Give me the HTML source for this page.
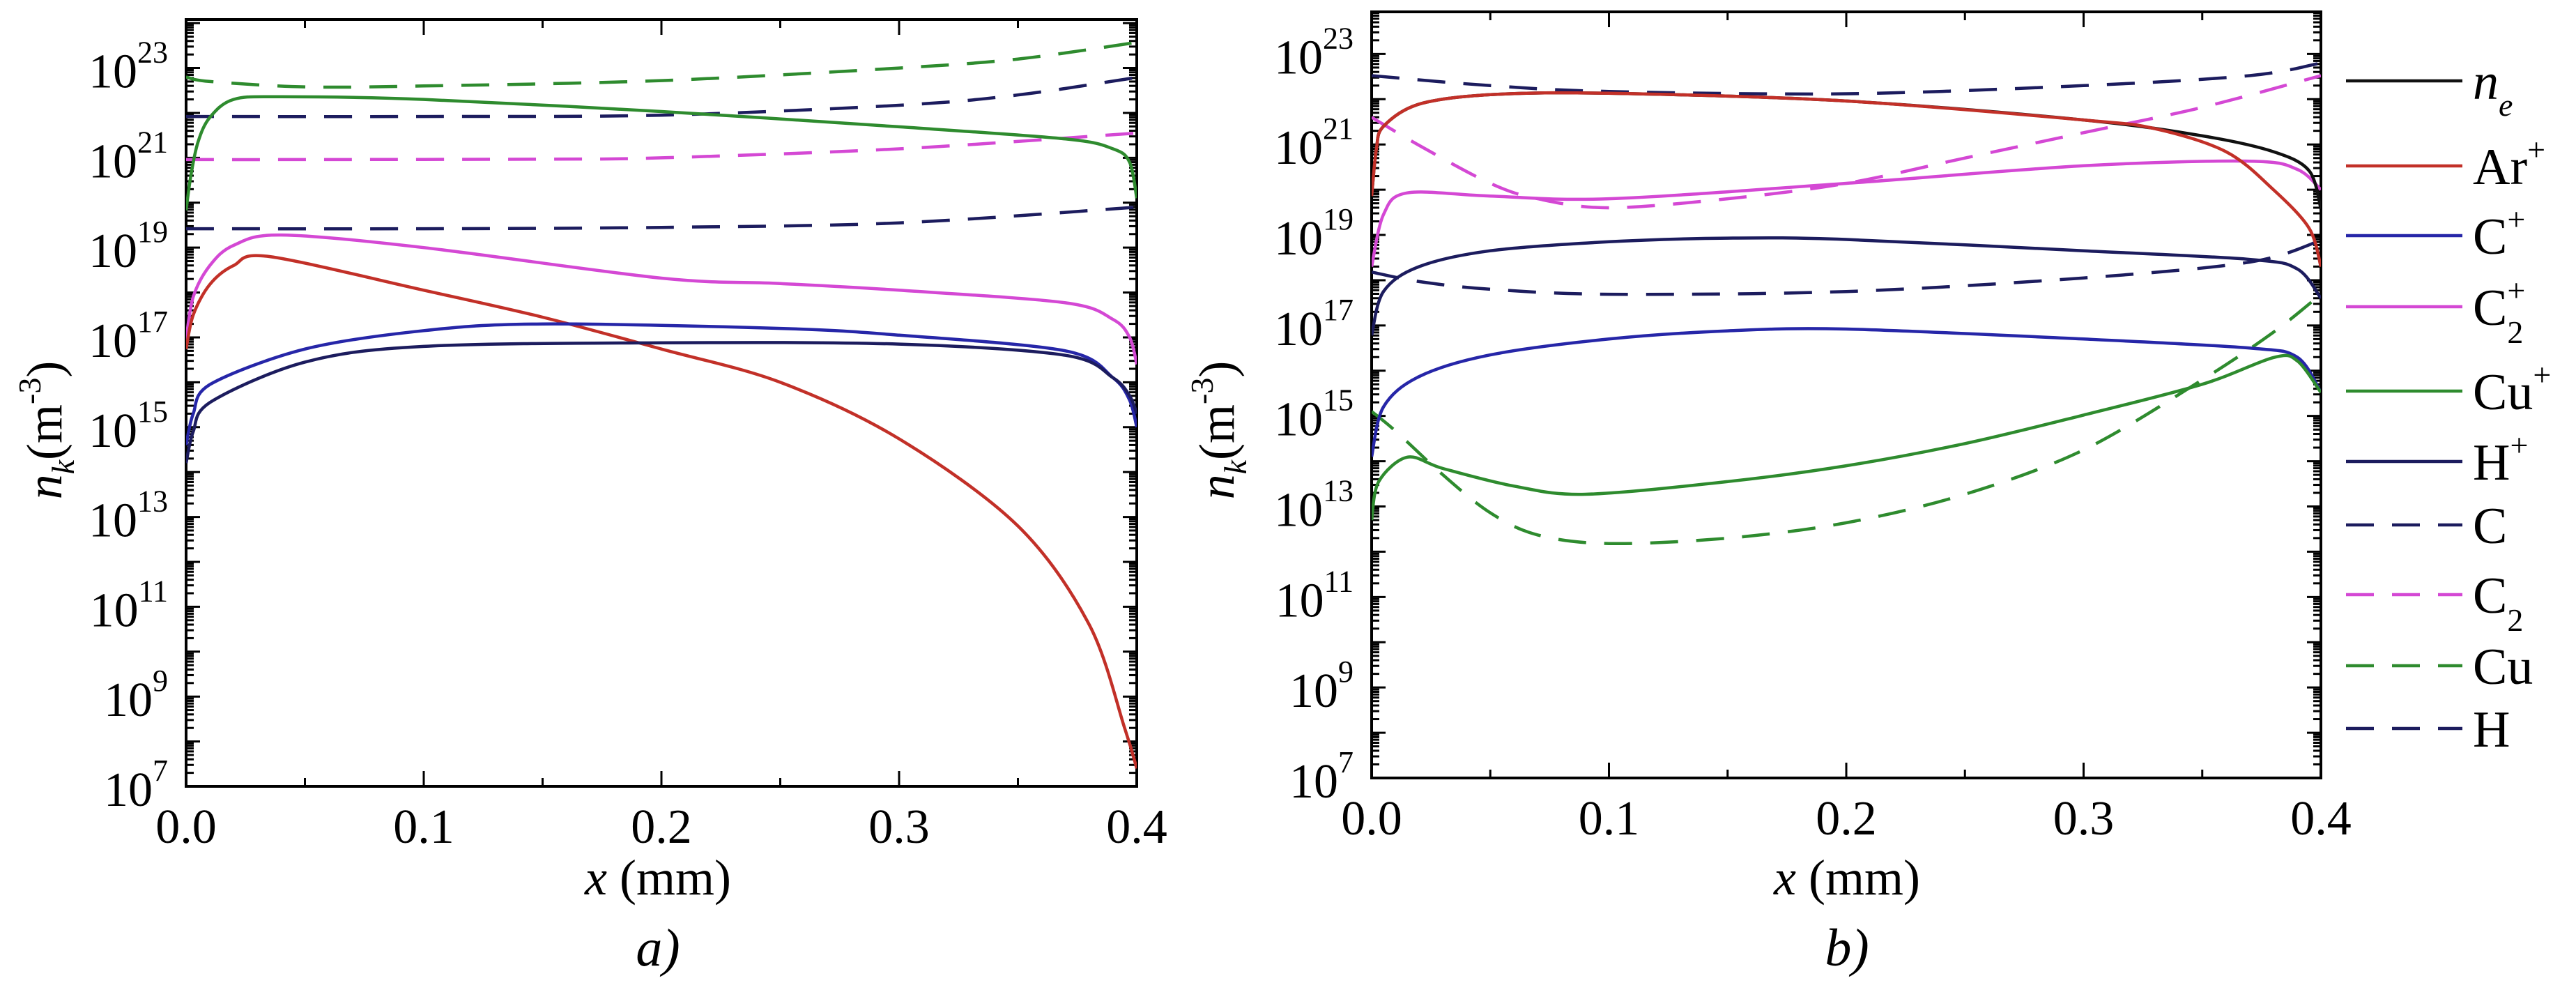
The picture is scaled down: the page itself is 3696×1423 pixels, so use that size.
<!DOCTYPE html>
<html><head><meta charset="utf-8">
<style>
html,body{margin:0;padding:0;background:#fff;}
svg{display:block;}
text{font-family:"Liberation Serif",serif;fill:#000;}
</style></head>
<body>
<svg id="fig" width="3696" height="1423" viewBox="0 0 3696 1423" xmlns="http://www.w3.org/2000/svg"></svg>
<script>
// ---------- data (log10 of density, x in mm) ----------
const xTicks = [0.0, 0.1, 0.2, 0.3, 0.4];
const yTickExps = [7, 9, 11, 13, 15, 17, 19, 21, 23];

// Panel a
const aCuDashX = [0, 0.01, 0.05, 0.1, 0.2, 0.3, 0.35, 0.4];
const aCuDashY = [22.8, 22.7, 22.58, 22.6, 22.72, 23.0, 23.2, 23.57];
const aHDashX = [0, 0.1, 0.2, 0.3, 0.35, 0.4];
const aHDashY = [21.92, 21.92, 21.95, 22.17, 22.4, 22.79];
const aCuIonX = [0, 0.002, 0.005, 0.01, 0.02, 0.04, 0.1, 0.2, 0.3, 0.37, 0.39, 0.397, 0.4];
const aCuIonY = [19.83, 20.6, 21.35, 21.9, 22.3, 22.36, 22.3, 22.03, 21.69, 21.42, 21.2, 20.9, 20.1];
const aC2DashX = [0, 0.05, 0.15, 0.2, 0.3, 0.4];
const aC2DashY = [20.96, 20.96, 20.97, 21.0, 21.2, 21.55];
const aCDashX = [0, 0.1, 0.2, 0.3, 0.4];
const aCDashY = [19.42, 19.42, 19.45, 19.55, 19.9];
const aC2IonX = [0, 0.003, 0.01, 0.02, 0.04, 0.1, 0.2, 0.25, 0.3, 0.37, 0.39, 0.397, 0.4];
const aC2IonY = [16.95, 17.9, 18.6, 19.05, 19.28, 19.0, 18.32, 18.2, 18.05, 17.77, 17.4, 17.0, 16.4];
const aArIonX = [0, 0.003, 0.01, 0.02, 0.035, 0.1, 0.15, 0.2, 0.25, 0.3, 0.35, 0.38, 0.395, 0.4];
const aArIonY = [16.74, 17.5, 18.18, 18.6, 18.8, 18.05, 17.45, 16.74, 16.0, 14.74, 12.8, 10.6, 8.28, 7.4];
const aCIonX = [0, 0.003, 0.01, 0.05, 0.1, 0.15, 0.25, 0.3, 0.37, 0.39, 0.397, 0.4];
const aCIonY = [14.6, 15.3, 15.95, 16.74, 17.15, 17.3, 17.2, 17.05, 16.7, 16.1, 15.6, 15.0];
const aHIonX = [0, 0.003, 0.01, 0.05, 0.1, 0.2, 0.3, 0.37, 0.39, 0.397, 0.4];
const aHIonY = [14.2, 14.9, 15.55, 16.45, 16.8, 16.88, 16.85, 16.6, 16.1, 15.7, 15.3];

// Panel b
const bHDashX = [0, 0.05, 0.1, 0.2, 0.3, 0.37, 0.4];
const bHDashY = [22.52, 22.3, 22.17, 22.12, 22.3, 22.52, 22.8];
const bNeX = [0, 0.002, 0.005, 0.02, 0.05, 0.1, 0.2, 0.3, 0.35, 0.38, 0.395, 0.4];
const bNeY = [19.86, 20.9, 21.4, 21.89, 22.1, 22.13, 21.96, 21.54, 21.19, 20.84, 20.42, 19.58];
const bArX = [0, 0.002, 0.005, 0.02, 0.05, 0.1, 0.2, 0.3, 0.33, 0.36, 0.38, 0.395, 0.4];
const bArY = [19.86, 20.9, 21.4, 21.89, 22.1, 22.13, 21.96, 21.54, 21.35, 20.84, 20.0, 19.15, 18.3];
const bC2DashX = [0, 0.02, 0.05, 0.07, 0.1, 0.15, 0.2, 0.25, 0.3, 0.35, 0.4];
const bC2DashY = [21.6, 20.98, 20.14, 19.8, 19.6, 19.8, 20.14, 20.7, 21.26, 21.82, 22.52];
const bC2IonX = [0, 0.005, 0.015, 0.05, 0.1, 0.2, 0.3, 0.37, 0.39, 0.4];
const bC2IonY = [18.3, 19.45, 19.93, 19.86, 19.8, 20.14, 20.53, 20.63, 20.45, 20.0];
const bHIonX = [0, 0.005, 0.02, 0.05, 0.1, 0.15, 0.2, 0.3, 0.37, 0.39, 0.4];
const bHIonY = [16.78, 17.75, 18.3, 18.65, 18.85, 18.93, 18.9, 18.65, 18.46, 18.25, 17.6];
const bCDashX = [0, 0.02, 0.05, 0.1, 0.2, 0.3, 0.37, 0.4];
const bCDashY = [18.18, 17.97, 17.8, 17.69, 17.75, 18.05, 18.4, 18.88];
const bCIonX = [0, 0.005, 0.02, 0.05, 0.1, 0.15, 0.2, 0.3, 0.37, 0.39, 0.4];
const bCIonY = [14.1, 15.2, 15.87, 16.35, 16.7, 16.88, 16.92, 16.7, 16.5, 16.3, 15.52];
const bCuIonX = [0, 0.003, 0.015, 0.03, 0.06, 0.09, 0.15, 0.2, 0.25, 0.3, 0.35, 0.38, 0.39, 0.4];
const bCuIonY = [12.7, 13.55, 14.09, 13.84, 13.45, 13.27, 13.55, 13.9, 14.39, 15.02, 15.7, 16.29, 16.22, 15.52];
const bCuDashX = [0, 0.01, 0.03, 0.05, 0.07, 0.1, 0.15, 0.2, 0.25, 0.3, 0.35, 0.38, 0.4];
const bCuDashY = [15.1, 14.67, 13.7, 12.86, 12.37, 12.18, 12.3, 12.64, 13.27, 14.25, 15.8, 16.85, 17.69];

const legendLabels = ["n_e","Ar+","C+","C2+","Cu+","H+","C","C2","Cu","H"];

// ---------- styles ----------
const COL = {black:"#111111", red:"#c23028", blue:"#2626a8", mag:"#d448d4", green:"#2e8b2e", navy:"#1c1c5e"};
const NS = "http://www.w3.org/2000/svg";
const svg = document.getElementById('fig');
function el(tag, attrs, parent){
  const e = document.createElementNS(NS, tag);
  for (const k in attrs) e.setAttribute(k, attrs[k]);
  (parent||svg).appendChild(e);
  return e;
}
function makeAxes(x0, x1, yTop, yBot, yMaxLog, yMinLog){
  return {
    sx: v => x0 + (v/0.4)*(x1-x0),
    sy: l => yBot - (l - yMinLog)/(yMaxLog - yMinLog)*(yBot - yTop),
    x0, x1, yTop, yBot, yMinLog, yMaxLog
  };
}
function pathFrom(ax, xs, ys){
  const pts = xs.map((x,i)=>[ax.sx(x), ax.sy(ys[i])]);
  let d = "M"+pts[0][0].toFixed(1)+","+pts[0][1].toFixed(1);
  for (let i=0;i<pts.length-1;i++){
    const p0 = pts[Math.max(0,i-1)], p1 = pts[i], p2 = pts[i+1], p3 = pts[Math.min(pts.length-1,i+2)];
    const t = 0.16;
    let c1x = p1[0] + (p2[0]-p0[0])*t, c1y = p1[1] + (p2[1]-p0[1])*t;
    let c2x = p2[0] - (p3[0]-p1[0])*t, c2y = p2[1] - (p3[1]-p1[1])*t;
    c1x = Math.min(Math.max(c1x,p1[0]),p2[0]); c2x = Math.min(Math.max(c2x,p1[0]),p2[0]);
    d += " C"+c1x.toFixed(1)+","+c1y.toFixed(1)+" "+c2x.toFixed(1)+","+c2y.toFixed(1)+" "+p2[0].toFixed(1)+","+p2[1].toFixed(1);
  }
  return d;
}
function drawPanel(ax, g, labelCenterX, yTitleX){
  // clip
  const cid = 'clip'+Math.round(ax.x0);
  const cp = el('clipPath',{id:cid}, g);
  el('rect',{x:ax.x0,y:ax.yTop,width:ax.x1-ax.x0,height:ax.yBot-ax.yTop}, cp);
  // minor/major y ticks on both sides
  const tg = el('g',{}, g);
  
  
  for (let e=Math.floor(ax.yMinLog); e<=Math.ceil(ax.yMaxLog); e++){
    for (let m=1;m<10;m++){
      const l = e + Math.log10(m);
      if (l < ax.yMinLog-1e-6 || l > ax.yMaxLog) continue;
      const y = ax.sy(l);
      const len = m===1 ? 20 : 11;
      el('line',{x1:ax.x0,y1:y,x2:ax.x0+len,y2:y,stroke:"#000","stroke-width":3}, tg);
      el('line',{x1:ax.x1,y1:y,x2:ax.x1-len,y2:y,stroke:"#000","stroke-width":3}, tg);
    }
  }
  // x ticks
  const xg = el('g',{}, g);
  
  
  for (let v=0; v<=0.4001; v+=0.05){
    const x = ax.sx(v);
    const major = Math.abs(v*10 - Math.round(v*10))<1e-6;
    const len = major ? 22 : 12;
    el('line',{x1:x,y1:ax.yBot,x2:x,y2:ax.yBot-len,stroke:"#000","stroke-width":3}, xg);
    el('line',{x1:x,y1:ax.yTop,x2:x,y2:ax.yTop+len,stroke:"#000","stroke-width":3}, xg);
  }
  // frame
  const fr = el('rect',{x:ax.x0,y:ax.yTop,width:ax.x1-ax.x0,height:ax.yBot-ax.yTop,fill:"none",stroke:"#000","stroke-width":4}, g);
  
  
  // x tick labels
  xTicks.forEach(v=>{
    const t = el('text',{x:ax.sx(v),y:ax.yBot+81,"font-size":70,"text-anchor":"middle"}, g);
    t.textContent = v.toFixed(1);
    
    
  });
  // y tick labels
  yTickExps.forEach(e=>{
    const y = ax.sy(e);
    const t = el('text',{x:ax.x0-26,y:y+28,"font-size":70,"text-anchor":"end"}, g);
    t.textContent = "10";
    const s = el('tspan',{"font-size":44,dy:-36}, t);
    s.textContent = String(e);
    
    
  });
  // axis titles
  const xt = el('text',{x:labelCenterX,y:1283,"font-size":72,"text-anchor":"middle"}, g);
  
  
  const xi = el('tspan',{"font-style":"italic"}, xt); xi.textContent = "x";
  const xr = el('tspan',{}, xt); xr.textContent = " (mm)";
  const yt = el('text',{x:0,y:0,"font-size":72,"text-anchor":"middle",transform:`translate(${yTitleX},617) rotate(-90)`}, g);
  
  
  const n = el('tspan',{"font-style":"italic"}, yt); n.textContent = "n";
  const k = el('tspan',{"font-style":"italic","font-size":46,dy:18}, yt); k.textContent = "k";
  const m1 = el('tspan',{dy:-18}, yt); m1.textContent = "(m";
  const m2 = el('tspan',{"font-size":46,dy:-30}, yt); m2.textContent = "-3";
  const m3 = el('tspan',{dy:30}, yt); m3.textContent = ")";
  return cid;
}
function series(ax, g, cid, xs, ys, color, dashed, name){
  const p = el('path',{d:pathFrom(ax,xs,ys),fill:"none",stroke:color,"stroke-width":4.5,"stroke-linejoin":"round","clip-path":`url(#${cid})`}, g);
  if (dashed) p.setAttribute('stroke-dasharray','40 26');
  
  
}

// ---------- panel a ----------
const axA = makeAxes(267, 1631, 28, 1128, 24.08, 7);
const gA = el('g',{});


const cA = drawPanel(axA, gA, 944, 88);
series(axA,gA,cA,aCuDashX,aCuDashY,COL.green,true,'series-cu-a');
series(axA,gA,cA,aHDashX,aHDashY,COL.navy,true,'series-h-a');
series(axA,gA,cA,aC2DashX,aC2DashY,COL.mag,true,'series-c2-a');
series(axA,gA,cA,aCDashX,aCDashY,COL.navy,true,'series-c-a');
series(axA,gA,cA,aCuIonX,aCuIonY,COL.green,false,'series-cu-ion-a');
series(axA,gA,cA,aC2IonX,aC2IonY,COL.mag,false,'series-c2-ion-a');
series(axA,gA,cA,aArIonX,aArIonY,COL.red,false,'series-ar-ion-a');
series(axA,gA,cA,aCIonX,aCIonY,COL.blue,false,'series-c-ion-a');
series(axA,gA,cA,aHIonX,aHIonY,COL.navy,false,'series-h-ion-a');
const la = el('text',{x:944,y:1385,"font-size":76,"text-anchor":"middle","font-style":"italic"}, gA);
la.textContent = "a)";



// ---------- panel b ----------
const axB = makeAxes(1968, 3330, 17, 1116, 23.93, 7);
const gB = el('g',{});


const cB = drawPanel(axB, gB, 2650, 1770);
series(axB,gB,cB,bHDashX,bHDashY,COL.navy,true,'series-h-b');
series(axB,gB,cB,bC2DashX,bC2DashY,COL.mag,true,'series-c2-b');
series(axB,gB,cB,bCDashX,bCDashY,COL.navy,true,'series-c-b');
series(axB,gB,cB,bCuDashX,bCuDashY,COL.green,true,'series-cu-b');
series(axB,gB,cB,bC2IonX,bC2IonY,COL.mag,false,'series-c2-ion-b');
series(axB,gB,cB,bNeX,bNeY,COL.black,false,'series-ne-b');
series(axB,gB,cB,bArX,bArY,COL.red,false,'series-ar-ion-b');
series(axB,gB,cB,bHIonX,bHIonY,COL.navy,false,'series-h-ion-b');
series(axB,gB,cB,bCIonX,bCIonY,COL.blue,false,'series-c-ion-b');
series(axB,gB,cB,bCuIonX,bCuIonY,COL.green,false,'series-cu-ion-b');
const lb = el('text',{x:2650,y:1385,"font-size":76,"text-anchor":"middle","font-style":"italic"}, gB);
lb.textContent = "b)";



// ---------- legend ----------
const legY = [116, 238, 338, 440, 561, 662, 753, 853, 955, 1045];
const legCol = [COL.black, COL.red, COL.blue, COL.mag, COL.green, COL.navy, COL.navy, COL.mag, COL.green, COL.navy];
const legDash = [false,false,false,false,false,false,true,true,true,true];
const lg = el('g',{});


legendLabels.forEach((lab,i)=>{
  const y = legY[i];
  const ln = el('line',{x1:3366,y1:y,x2:3533,y2:y,stroke:legCol[i],"stroke-width":4.5}, lg);
  if (legDash[i]) ln.setAttribute('stroke-dasharray','40 26');
  
  
  const t = el('text',{x:3548,y:y+26,"font-size":74}, lg);
  
  
  if (lab==="n_e"){
    const a = el('tspan',{"font-style":"italic"}, t); a.textContent="n";
    const b = el('tspan',{"font-style":"italic","font-size":46,dy:24}, t); b.textContent="e";
  } else {
    const m = lab.match(/^([A-Za-z]+?)(2?)(\+?)$/);
    const base = el('tspan',{}, t); base.textContent = m[1];
    if (m[2] && m[3]){
      const p = el('tspan',{"font-size":46,dy:-34}, t); p.textContent = "+";
      const s = el('tspan',{"font-size":46,dx:-26,dy:60}, t); s.textContent = "2";
    } else if (m[3]){
      const p = el('tspan',{"font-size":46,dy:-34}, t); p.textContent = "+";
    } else if (m[2]){
      const s = el('tspan',{"font-size":46,dy:26}, t); s.textContent = "2";
    }
  }
});
</script>
</body></html>
